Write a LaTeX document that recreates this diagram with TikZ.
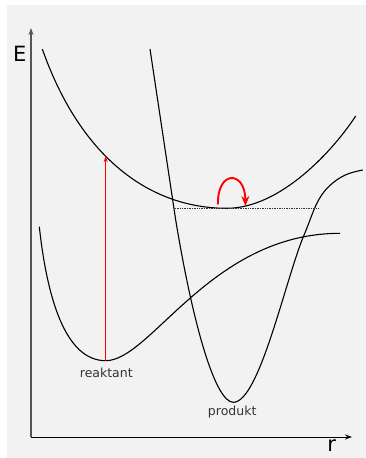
\documentclass[tikz,border=0pt]{standalone}
\usepackage{fontspec}
\setmainfont{DejaVu Sans}
\usetikzlibrary{arrows.meta}
\definecolor{bgfill}{HTML}{F2F2F2}
\definecolor{axisgray}{HTML}{555555}
\begin{document}
\begin{tikzpicture}[x=1pt,y=1pt,>={Stealth[length=7pt,width=5pt]},
  curve/.style={line width=1.1pt},
  lbl/.style={black!80,font=\fontsize{12.5}{15}\selectfont}]
  \useasboundingbox (-31,-21) rectangle (335,437);
  \fill[bgfill] (-24,-21) rectangle (335,432);
  % axes
  \draw[->,axisgray,line width=1.4pt](0,0)--(0,409);
  \draw[->,line width=0.9pt](0,0)--(321,0);
  \node[font=\fontsize{21}{21}\selectfont] at (-11.3,383){E};
  \node[font=\fontsize{21}{21}\selectfont] at (300.7,-9){r};
  % excited state
  \draw[curve] (11.3,388) .. controls (50,278) and (120,228.7) .. (195.7,228.7)
    .. controls (250,228.7) and (302.9,287.5) .. (324.7,321);
  % produkt
  \draw[curve] (119,388) -- (144.7,217) .. controls (162.9,107) and (185,34.7) .. (202.3,34.7)
    .. controls (228,34.7) and (253.6,153.9) .. (272.3,200.3)
    to[out=66,in=-145] (305.7,257) to[out=35,in=-168] (331.7,267);
  % reaktant
  \draw[curve] (8.3,210.3) .. controls (16,140) and (34,76.3) .. (74.7,76.3)
    .. controls (120,76.3) and (180,203.7) .. (309,203.7);
  \draw[densely dotted,black!80,line width=0.7pt](144,228.7)--(287.3,228.7);
  % transitions
  \draw[->,red,line width=1.4pt,>={Stealth[length=6pt,width=4pt]}](74.7,76.3)--(74.7,281);
  \draw[->,red,line width=1.9pt,>={Stealth[length=10pt,width=8pt]}](187,232.5) .. controls (186,267) and (214,267) .. (214.5,231);
  \node[lbl] at (75.3,63.7){reaktant};
  \node[lbl] at (201.2,24.7){produkt};
\end{tikzpicture}
\end{document}
